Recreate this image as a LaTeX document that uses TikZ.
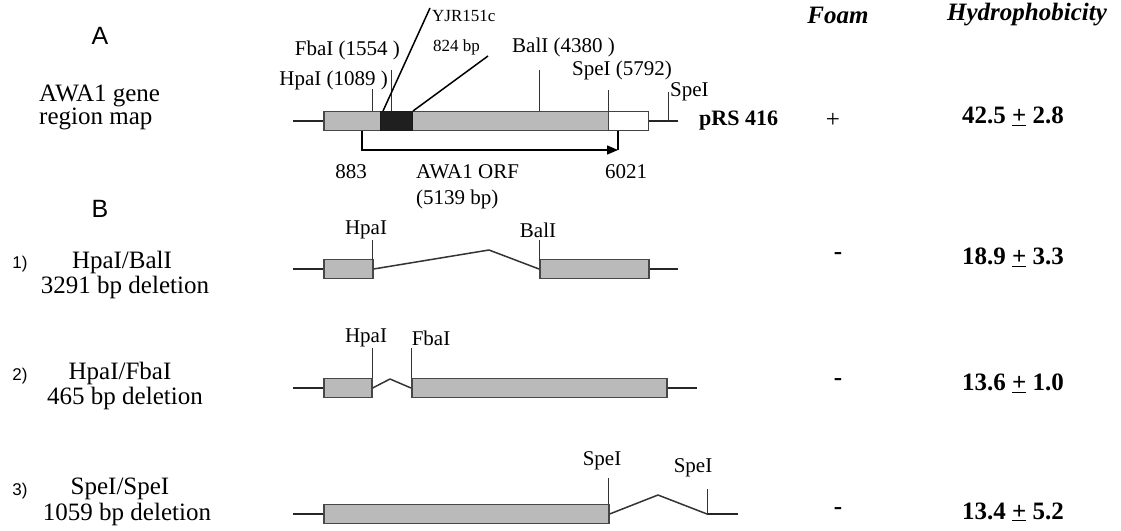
\documentclass[tikz,border=0pt]{standalone}
\usepackage{fontspec}
\setmainfont{Liberation Serif}
\newfontfamily\arialf{Liberation Sans}
\usetikzlibrary{arrows.meta}
\tikzset{
  dna/.style={line width=1.7pt, black!85},
  tickl/.style={line width=1pt, black!80},
  dell/.style={line width=1.5pt, black!80, line join=round},
  orf/.style={line width=1.3pt, black},
  gbox/.style={draw=black!72, line width=1.6pt, fill=black!27, minimum height=19pt, inner sep=0pt, anchor=west},
  dbox/.style={draw=black!90, line width=1pt, fill=black!88, minimum height=19pt, inner sep=0pt, anchor=west},
  wbox/.style={draw=black!75, line width=1.3pt, fill=white, minimum height=19pt, inner sep=0pt, anchor=west},
  lab/.style={font=\fontsize{25}{29}\selectfont, inner sep=0pt},
  enz/.style={font=\fontsize{21}{25}\selectfont, inner sep=0pt},
  small/.style={font=\fontsize{17}{20}\selectfont, inner sep=0pt},
  val/.style={font=\bfseries\fontsize{25}{29}\selectfont, inner sep=0pt},
  hdr/.style={font=\bfseries\itshape\fontsize{25}{29}\selectfont, inner sep=0pt},
  sans/.style={font=\arialf\fontsize{25}{29}\selectfont, inner sep=0pt},
  num/.style={font=\arialf\fontsize{17}{20}\selectfont, inner sep=0pt},
}
\begin{document}
\begin{tikzpicture}[x=1pt,y=-1pt]
\useasboundingbox (0,0) rectangle (1121,530);
% ---------- Row A ----------
\node[gbox, minimum width=285pt] (abox) at (323,121) {};
\node[dbox, minimum width=32pt] (ablk) at (380,121) {};
\node[wbox, minimum width=40pt] (awht) at (608,121) {};
\coordinate (aL) at (293,121);
\coordinate (aR) at (678,121);
\draw[dna] (aL) -- (abox.west);
\draw[dna] (awht.east) -- (aR);
% ticks
\coordinate (hpaT) at (372,89);  \coordinate (hpaB) at (372,111);
\coordinate (fbaT) at (391,70);  \coordinate (fbaB) at (391,111);
\coordinate (balT) at (539,70);  \coordinate (balB) at (539,111);
\coordinate (speT) at (608,90);  \coordinate (speB) at (608,111);
\coordinate (spfT) at (668,92);  \coordinate (spfB) at (668,121);
\draw[tickl] (hpaT) -- (hpaB);
\draw[tickl] (fbaT) -- (fbaB);
\draw[tickl] (balT) -- (balB);
\draw[tickl] (speT) -- (speB);
\draw[tickl] (spfT) -- (spfB);
% YJR151c lines
\coordinate (yjrS) at (383,111);
\coordinate (yjrE) at (430,8);
\coordinate (bpS) at (413,111);
\coordinate (bpE) at (488,56);
\draw[line width=1.5pt] (yjrS) -- (yjrE);
\draw[line width=1.5pt] (bpS) -- (bpE);
% ORF arrow
\coordinate (o1) at (362,131);
\coordinate (o2) at (618,150);
\coordinate (o3) at (618,131);
\draw[orf, -{Triangle[length=11pt,width=9pt]}] (o1) |- (o2);
\draw[orf] (o3) -- (o2);
% labels row A
\node[enz, anchor=east] (lhpa) at (388,80) {HpaI (1089 )};
\node[enz, anchor=east] (lfba) at (400,50) {FbaI (1554 )};
\node[small, anchor=west] (lyjr) at (432,16) {YJR151c};
\node[small, anchor=west] (lbp) at (433,47) {824 bp};
\node[enz, anchor=west] (lbal) at (512,47) {BalI (4380 )};
\node[enz, anchor=west] (lspe) at (572,70) {SpeI (5792)};
\node[enz, anchor=west] (lspf) at (670,92) {SpeI};
\node[font=\bfseries\fontsize{22}{26}\selectfont, inner sep=0pt, anchor=west] (prs) at (699,121) {pRS 416};
\node[enz] (l883) at (351,172) {883};
\node[enz, anchor=west] (lorf) at (416,172) {AWA1 ORF};
\node[enz, anchor=west] (l5139) at (416,199) {(5139 bp)};
\node[enz] (l6021) at (626,172) {6021};
% left labels
\node[sans] (lA) at (100,36) {A};
\node[lab, anchor=west] (g1) at (39,96) {AWA1 gene};
\node[lab, anchor=west] (g2) at (39,119) {region map};
\node[sans] (lB) at (100,209) {B};
% header
\node[hdr] (foam) at (838,15) {Foam};
\node[hdr] (hyd) at (1027,15) {Hydrophobicity};
\node[lab] (fA) at (833,120) {+};
\node[val] (vA) at (1013,116) {42.5 \underline{+} 2.8};
% ---------- Row 1 ----------
\node[num] (n1) at (20,264) {1)};
\node[lab] (r1a) at (122,262) {HpaI/BalI};
\node[lab] (r1b) at (125,287) {3291 bp deletion};
\node[gbox, minimum width=49pt] (b1a) at (323,269) {};
\node[gbox, minimum width=109pt] (b1b) at (539,269) {};
\coordinate (r1L) at (293,269);
\coordinate (r1R) at (678,269);
\coordinate (r1p) at (489,250);
\draw[dna] (r1L) -- (b1a.west);
\draw[dna] (b1b.east) -- (r1R);
\draw[dell] (b1a.east) -- (r1p) -- (b1b.west);
\coordinate (h1T) at (372,240); \coordinate (h1B) at (372,260);
\coordinate (k1T) at (539,240); \coordinate (k1B) at (539,260);
\draw[tickl] (h1T) -- (h1B);
\draw[tickl] (k1T) -- (k1B);
\node[enz] (lh1) at (366,230) {HpaI};
\node[enz] (lk1) at (538,230) {BalI};
\node[val] (f1) at (838,256) {-};
\node[val] (v1) at (1013,257) {18.9 \underline{+} 3.3};
% ---------- Row 2 ----------
\node[num] (n2) at (20,376) {2)};
\node[lab] (r2a) at (120,373) {HpaI/FbaI};
\node[lab] (r2b) at (125,398) {465 bp deletion};
\node[gbox, minimum width=48pt] (b2a) at (323,388) {};
\node[gbox, minimum width=255pt] (b2b) at (411,388) {};
\coordinate (r2L) at (293,388);
\coordinate (r2R) at (697,388);
\coordinate (r2p) at (390,379);
\draw[dna] (r2L) -- (b2a.west);
\draw[dna] (b2b.east) -- (r2R);
\draw[dell] (b2a.east) -- (r2p) -- (b2b.west);
\coordinate (h2T) at (372,348); \coordinate (h2B) at (372,378);
\coordinate (k2T) at (411,348); \coordinate (k2B) at (411,378);
\draw[tickl] (h2T) -- (h2B);
\draw[tickl] (k2T) -- (k2B);
\node[enz] (lh2) at (366,338) {HpaI};
\node[enz] (lk2) at (431,338) {FbaI};
\node[val] (f2) at (838,382) {-};
\node[val] (v2) at (1013,383) {13.6 \underline{+} 1.0};
% ---------- Row 3 ----------
\node[num] (n3) at (20,491) {3)};
\node[lab] (r3a) at (120,489) {SpeI/SpeI};
\node[lab] (r3b) at (127,514) {1059 bp deletion};
\node[gbox, minimum width=285pt] (b3a) at (323,514) {};
\coordinate (r3L) at (293,514);
\coordinate (r3p) at (658,495);
\coordinate (r3k) at (707,514);
\coordinate (r3R) at (738,514);
\draw[dna] (r3L) -- (b3a.west);
\draw[dell] (b3a.east) -- (r3p) -- (r3k);
\draw[dna] (r3k) -- (r3R);
\coordinate (s3T) at (608,478); \coordinate (s3B) at (608,504);
\coordinate (t3T) at (707,489);
\draw[tickl] (s3T) -- (s3B);
\draw[tickl] (t3T) -- (r3k);
\node[enz] (ls3) at (602,461) {SpeI};
\node[enz] (lt3) at (693,468) {SpeI};
\node[val] (f3) at (838,511) {-};
\node[val] (v3) at (1013,512) {13.4 \underline{+} 5.2};
\end{tikzpicture}
\end{document}
